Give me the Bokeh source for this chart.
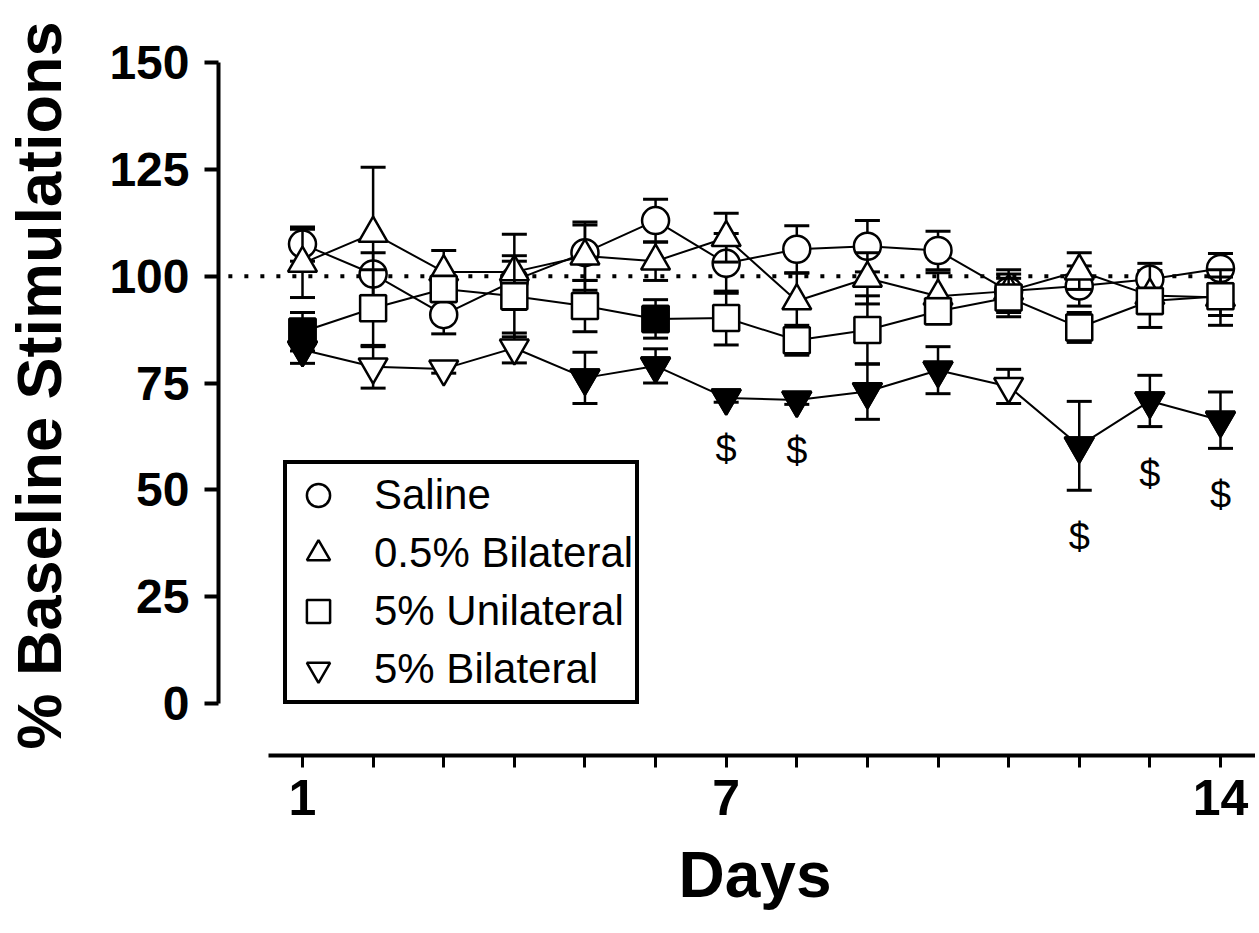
from bokeh.plotting import figure
from bokeh.models import ColumnDataSource, FixedTicker, Legend, LegendItem, Range1d, Title
from bokeh.core.properties import value
from bokeh.embed import file_html
from bokeh.resources import INLINE

# ---------------- data ----------------
days = list(range(1, 15))
x_tick_labels = {1: "1", 7: "7", 14: "14"}
y_ticks = [0, 25, 50, 75, 100, 125, 150]
baseline = 100

saline_mean = [107.5, 100.5, 91.0, 99.0, 105.5, 113.0, 103.0, 106.3, 107.0, 106.0, 96.5, 97.7, 99.3, 101.8]
saline_sem = [4.0, 5.0, 4.5, 4.5, 6.5, 5.0, 7.0, 5.5, 6.0, 4.5, 5.0, 4.7, 2.0, 3.5]

bil05_mean = [103.0, 110.0, 101.0, 101.0, 104.7, 103.5, 109.0, 94.2, 99.5, 95.3, 96.5, 101.2, 95.5, 95.0]
bil05_sem = [8.0, 15.5, 5.0, 8.8, 8.0, 4.5, 5.7, 6.5, 6.0, 5.5, 4.0, 4.3, 7.5, 6.5]

uni5_mean = [87.0, 92.5, 97.0, 95.3, 93.0, 90.0, 90.2, 85.0, 87.4, 91.8, 95.0, 88.0, 94.2, 95.3]
uni5_sem = [4.5, 9.0, 3.0, 9.5, 6.0, 4.5, 6.3, 3.5, 8.0, 3.0, 4.5, 3.5, 3.0, 4.5]
uni5_filled = [True, False, False, False, False, True, False, False, False, False, False, False, False, False]

bil5_mean = [82.8, 78.8, 78.3, 83.2, 76.2, 79.0, 71.5, 71.0, 73.0, 78.0, 74.2, 60.3, 70.8, 66.3]
bil5_sem = [3.2, 5.0, 1.0, 3.5, 6.0, 4.0, 1.0, 1.0, 6.5, 5.5, 4.0, 10.4, 6.0, 6.6]
bil5_filled = [True, False, False, False, True, True, True, True, True, True, False, True, True, True]

dollar_days = [7, 8, 12, 13, 14]

series = [
    ("Saline", saline_mean, saline_sem, None, "circle", 27),
    ("0.5% Bilateral", bil05_mean, bil05_sem, None, "triangle", 29),
    ("5% Unilateral", uni5_mean, uni5_sem, uni5_filled, "square", 26),
    ("5% Bilateral", bil5_mean, bil5_sem, bil5_filled, "inverted_triangle", 29),
]

FONT = "Liberation Sans"

p = figure(width=1255, height=931, output_backend="svg", toolbar_location=None,
           x_range=Range1d(-0.1896, 14.496), y_range=Range1d(-12.17, 161.0),
           min_border_left=218, min_border_right=0, min_border_top=15, min_border_bottom=176)
p.outline_line_color = None
p.xgrid.visible = False
p.ygrid.visible = False
p.background_fill_color = "white"
p.border_fill_color = "white"

# dotted baseline
p.segment(x0=[days[0] - 1.05], y0=[baseline], x1=[days[-1] + 0.15], y1=[baseline],
          line_color="black", line_width=4, line_dash="4 12")

legend_items = []
for name, mean, sem, filled, marker, size in series:
    upper = [m + s for m, s in zip(mean, sem)]
    lower = [m - s for m, s in zip(mean, sem)]
    src = ColumnDataSource(dict(x=days, y=mean, up=upper, lo=lower))
    p.segment(x0="x", y0="lo", x1="x", y1="up", source=src, line_color="black", line_width=2.5)
    p.scatter("x", "up", source=src, marker="dash", size=25, line_color="black", line_width=3)
    p.scatter("x", "lo", source=src, marker="dash", size=25, line_color="black", line_width=3)
    p.line("x", "y", source=src, line_color="black", line_width=2)
    r = p.scatter("x", "y", source=src, marker=marker, size=size, fill_color="white",
                  line_color="black", line_width=2.5)
    legend_items.append(LegendItem(label=name, renderers=[r]))
    if filled is not None:
        fx = [d for d, f in zip(days, filled) if f]
        fy = [m for m, f in zip(mean, filled) if f]
        p.scatter(fx, fy, marker=marker, size=size, fill_color="black",
                  line_color="black", line_width=2.5)

# significance markers
d_y = [bil5_mean[d - 1] - bil5_sem[d - 1] - 11 for d in dollar_days]
p.text(x=dollar_days, y=d_y, text=["$"] * len(dollar_days), text_font=value(FONT),
       text_font_size="38px", text_align="center", text_baseline="middle", text_color="black")

# axes
yax = p.yaxis[0]
yax.ticker = FixedTicker(ticks=y_ticks)
yax.bounds = (0, 150)
yax.axis_line_width = 4
yax.axis_line_color = "black"
yax.major_tick_line_width = 4
yax.major_tick_line_color = "black"
yax.major_tick_out = 14
yax.major_tick_in = 0
yax.minor_tick_line_color = None
yax.major_label_standoff = 15
yax.major_label_text_font = FONT
yax.major_label_text_font_style = "bold"
yax.major_label_text_font_size = "48px"
yax.major_label_text_color = "black"
yax.axis_label = "% Baseline Stimulations"
yax.axis_label_text_font = FONT
yax.axis_label_text_font_style = "bold"
yax.axis_label_text_font_size = "63px"
yax.axis_label_text_color = "black"
yax.axis_label_standoff = 32

xax = p.xaxis[0]
xax.ticker = FixedTicker(ticks=days)
xax.major_label_overrides = {d: x_tick_labels.get(d, "") for d in days}
xax.bounds = (0.52, 14.496)
xax.axis_line_width = 4
xax.axis_line_color = "black"
xax.major_tick_line_width = 3
xax.major_tick_line_color = "black"
xax.major_tick_out = 12
xax.major_tick_in = 0
xax.minor_tick_line_color = None
xax.major_label_standoff = 12
xax.major_label_text_font = FONT
xax.major_label_text_font_style = "bold"
xax.major_label_text_font_size = "50px"
xax.major_label_text_color = "black"

# x axis title (as a below title so it can be offset horizontally)
p.add_layout(Title(text="Days", align="left", offset=460, standoff=39,
                   text_font=FONT, text_font_style="bold", text_font_size="64px",
                   text_color="black"), "below")

legend = Legend(items=legend_items, location=(65, 51))
legend.label_text_font = FONT
legend.label_text_font_size = "42px"
legend.label_text_color = "black"
legend.glyph_width = 58
legend.glyph_height = 58
legend.label_height = 58
legend.spacing = 0
legend.padding = 2
legend.margin = 0
legend.label_standoff = 27
legend.border_line_color = "black"
legend.border_line_alpha = 1
legend.border_line_width = 4
legend.background_fill_color = "white"
legend.background_fill_alpha = 1
p.add_layout(legend)

open("out.html", "w").write(file_html(p, INLINE))
